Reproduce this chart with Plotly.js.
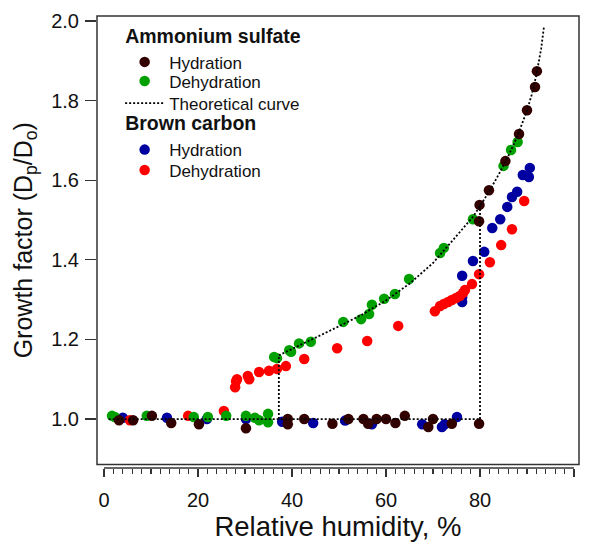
<!DOCTYPE html>
<html>
<head>
<meta charset="utf-8">
<script src="https://cdn.plot.ly/plotly-3.0.1.min.js"></script>
<style>
  html, body { margin: 0; padding: 0; background: #ffffff; }
  #chart { width: 590px; height: 542px; }
</style>
</head>
<body>
<div id="chart"></div>
<script>
// Ammonium sulfate — hydration
const asHydRH = [3.2, 6.2, 10.2, 14.3, 20.2, 30.2, 39.1, 39.1, 42.6, 48.6, 52.0, 55.2, 56.2, 58.0, 60.0, 62.0, 64.0, 69.0, 70.0, 74.0, 79.8, 79.8, 79.9, 81.9, 85.4, 88.3, 90.0, 91.7, 92.1];
const asHydGF = [0.997, 0.997, 1.008, 0.990, 0.987, 0.977, 1.000, 0.987, 1.000, 0.988, 1.000, 1.000, 0.988, 1.000, 1.000, 0.990, 1.008, 0.980, 1.000, 0.988, 0.988, 1.497, 1.538, 1.575, 1.648, 1.716, 1.776, 1.834, 1.874];

// Ammonium sulfate — dehydration
const asDehRH = [1.7, 2.3, 9.1, 19.1, 22.1, 26.0, 30.2, 32.1, 33.0, 34.9, 34.9, 36.2, 36.8, 39.4, 39.8, 41.5, 44.0, 50.9, 54.7, 56.4, 57.0, 59.6, 61.9, 64.9, 71.5, 72.3, 78.5, 85.0, 86.6, 88.0];
const asDehGF = [1.008, 1.005, 1.008, 1.005, 1.005, 1.008, 1.008, 1.003, 0.997, 1.013, 0.992, 1.156, 1.153, 1.173, 1.169, 1.190, 1.194, 1.244, 1.251, 1.264, 1.287, 1.302, 1.314, 1.352, 1.417, 1.430, 1.502, 1.636, 1.676, 1.696];

// Brown carbon — hydration
const bcHydRH = [4.0, 13.4, 21.9, 30.2, 37.9, 44.5, 51.3, 57.0, 67.7, 71.9, 72.5, 75.1, 76.2, 76.2, 76.2, 78.5, 80.9, 82.6, 84.3, 85.8, 86.8, 87.9, 89.1, 90.4, 90.6];
const bcHydGF = [1.003, 1.003, 1.000, 1.000, 0.993, 0.990, 0.996, 0.987, 0.987, 0.980, 0.987, 1.005, 1.294, 1.306, 1.360, 1.397, 1.420, 1.480, 1.502, 1.533, 1.558, 1.571, 1.613, 1.608, 1.631];

// Brown carbon — dehydration
const bcDehRH = [5.5, 17.9, 25.5, 27.9, 28.1, 28.3, 30.6, 30.9, 33.0, 35.1, 36.8, 38.7, 42.6, 49.6, 56.0, 62.6, 70.4, 71.5, 72.3, 73.2, 74.0, 74.9, 75.7, 76.4, 76.8, 78.3, 79.8, 82.1, 84.5, 86.8, 89.4];
const bcDehGF = [0.997, 1.008, 1.020, 1.080, 1.095, 1.100, 1.108, 1.100, 1.118, 1.121, 1.126, 1.133, 1.151, 1.178, 1.196, 1.234, 1.271, 1.284, 1.289, 1.294, 1.299, 1.304, 1.309, 1.317, 1.324, 1.339, 1.364, 1.394, 1.437, 1.477, 1.548];

// Theoretical curve pieces
const flatRH = [1.0, 80.0];
const flatGF = [1.0, 1.0];
const drhLowRH = [37.2, 37.2];
const drhLowGF = [1.0, 1.160];
const drhHighRH = [80.0, 80.0];
const drhHighGF = [1.0, 1.535];
const curveRH = [37.2, 40, 45, 50, 55, 60, 65, 70, 75, 78.5, 80, 82, 84, 86, 88, 90, 91, 92, 93, 93.6];
const curveGF = [1.160, 1.176, 1.203, 1.233, 1.263, 1.298, 1.340, 1.392, 1.460, 1.508, 1.535, 1.573, 1.615, 1.660, 1.712, 1.775, 1.815, 1.865, 1.930, 1.985];

// Axis ticks
const xTicks = [0, 20, 40, 60, 80, 100];
const yTicks = [1.0, 1.2, 1.4, 1.6, 1.8, 2.0];

const FONT = 'Liberation Sans, Arial, sans-serif';
const MS = 10.5;

const theoX = [].concat(flatRH, [null], drhLowRH, [null], drhHighRH, [null], curveRH);
const theoY = [].concat(flatGF, [null], drhLowGF, [null], drhHighGF, [null], curveGF);

const groupTitleFont = { family: FONT, size: 19.5, color: '#111', weight: 'bold' };

const traces = [
  { x: bcHydRH, y: bcHydGF, type: 'scatter', mode: 'markers', name: 'Hydration',
    legend: 'legend4', legendgroup: 'bc', legendgrouptitle: { text: 'Brown carbon', font: groupTitleFont },
    marker: { color: '#0000a0', size: MS, line: { width: 0 } } },
  { x: bcDehRH, y: bcDehGF, type: 'scatter', mode: 'markers', name: 'Dehydration',
    legend: 'legend5', legendgroup: 'bc2', marker: { color: '#ff0000', size: MS, line: { width: 0 } } },
  { x: asDehRH, y: asDehGF, type: 'scatter', mode: 'markers', name: 'Dehydration',
    legend: 'legend2', legendgroup: 'as2', marker: { color: '#00a000', size: MS, line: { width: 0 } } },
  { x: asHydRH, y: asHydGF, type: 'scatter', mode: 'markers', name: 'Hydration',
    legend: 'legend', legendgroup: 'as', legendgrouptitle: { text: 'Ammonium sulfate', font: groupTitleFont },
    marker: { color: '#330000', size: MS, line: { width: 0 } } },
  { x: theoX, y: theoY, type: 'scatter', mode: 'lines', name: 'Theoretical curve',
    legend: 'legend3', legendgroup: 'as3', connectgaps: false,
    line: { color: '#000000', width: 1.8, dash: '2px,2px' } }
];

function legendAt(y) {
  return {
    x: 0.048, y: y, xanchor: 'left', yanchor: 'top',
    bgcolor: 'rgba(0,0,0,0)', borderwidth: 0,
    font: { family: FONT, size: 17, color: '#111' },
    traceorder: 'grouped', tracegroupgap: 0, itemwidth: 39
  };
}

const layout = {
  width: 590, height: 542,
  margin: { l: 97, r: 11, t: 16, b: 74, pad: 0 },
  paper_bgcolor: '#ffffff', plot_bgcolor: '#ffffff',
  font: { family: FONT, color: '#111' },
  showlegend: true,
  legend: legendAt(1.0),
  legend2: legendAt(0.895),
  legend3: legendAt(0.846),
  legend4: legendAt(0.806),
  legend5: legendAt(0.698),
  xaxis: {
    range: [-1.49, 101.06], anchor: 'free', position: 0,
    showgrid: false, zeroline: false, showline: false,
    tickmode: 'array', tickvals: xTicks, ticktext: xTicks.map(String),
    ticks: 'outside', ticklen: 8, tickwidth: 1.3, tickcolor: '#333',
    minor: { tick0: 0, dtick: 2, ticks: 'outside', ticklen: 5, tickwidth: 1.1, tickcolor: '#333' },
    tickfont: { family: FONT, size: 20, color: '#111' },
    ticklabelstandoff: 6,
    title: { text: 'Relative humidity, %', font: { family: FONT, size: 27.5, color: '#111' }, standoff: 14 }
  },
  yaxis: {
    range: [0.8857, 2.0126], domain: [0.0077, 1],
    showgrid: false, zeroline: false, showline: false,
    tickmode: 'array', tickvals: yTicks, ticktext: yTicks.map(v => v.toFixed(1)),
    ticks: 'outside', ticklen: 11, tickwidth: 1.2, tickcolor: '#333',
    tickfont: { family: FONT, size: 20, color: '#111' },
    ticklabelstandoff: 2,
    title: { text: 'Growth factor (D<sub>p</sub>/D<sub>o</sub>)', font: { family: FONT, size: 25, color: '#111' }, standoff: 11 }
  },
  shapes: [
    { type: 'rect', xref: 'paper', yref: 'y domain', x0: 0, x1: 1, y0: 0, y1: 1,
      line: { color: '#333', width: 1.5 }, fillcolor: 'rgba(0,0,0,0)' },
    { type: 'line', xref: 'x', yref: 'paper', x0: xTicks[0], x1: xTicks[xTicks.length - 1], y0: 0, y1: 0,
      line: { color: '#333', width: 1.3 } }
  ]
};

Plotly.newPlot('chart', traces, layout, { displayModeBar: false, staticPlot: true });
</script>
</body>
</html>
